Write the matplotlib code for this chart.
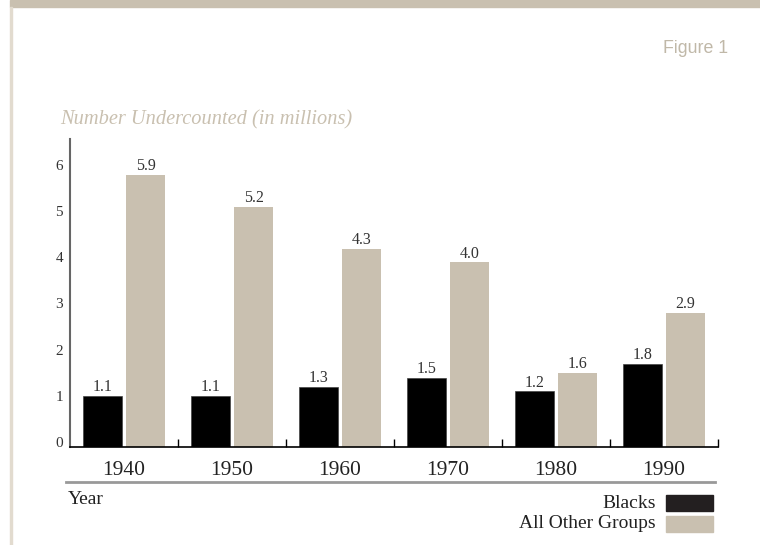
import matplotlib.pyplot as plt
import matplotlib.patches as mpatches
import numpy as np

years = ["1940", "1950", "1960", "1970", "1980", "1990"]
blacks = [1.1, 1.1, 1.3, 1.5, 1.2, 1.8]
others = [5.9, 5.2, 4.3, 4.0, 1.6, 2.9]
yticks = [0, 1, 2, 3, 4, 5, 6]

beige = "#c9c0b0"
serif = "Liberation Serif"

W, H = 760, 545
fig = plt.figure(figsize=(W / 100, H / 100), dpi=100)

def fx(px):
    return px / W

def fy(py):
    return 1 - py / H

# decorative frame: top band and thin left rule
fig.patches.append(mpatches.Rectangle((fx(10), fy(7.3)), fx(750), 7.3 / H,
                                      transform=fig.transFigure, color=beige, zorder=0))
fig.patches.append(mpatches.Rectangle((fx(10), 0), fx(2), fy(7.3),
                                      transform=fig.transFigure, color="#e2dbcf", zorder=0))

ax = fig.add_axes([fx(70), fy(446.7), fx(648), 307.4 / H])

x = np.arange(len(years))
w = 0.36
ax.bar(x - 0.2, blacks, w, color="black", edgecolor="#444444", linewidth=0.5)
ax.bar(x + 0.2, others, w, color=beige)

for xi, v in zip(x, blacks):
    ax.text(xi - 0.2, v + 0.1, f"{v:.1f}", ha="center", va="baseline",
            family=serif, fontsize=11.5, color="#333333")
for xi, v in zip(x, others):
    ax.text(xi + 0.2, v + 0.1, f"{v:.1f}", ha="center", va="baseline",
            family=serif, fontsize=11.5, color="#333333")

ax.set_xlim(-0.5, 5.5)
ax.set_ylim(0, 6.67)

for s in ["top", "right"]:
    ax.spines[s].set_visible(False)
ax.spines["left"].set_color("#666666")
ax.spines["left"].set_linewidth(1.5)
ax.spines["bottom"].set_color("black")
ax.spines["bottom"].set_linewidth(1.2)

ax.set_yticks(yticks)
ax.set_yticklabels([str(t) for t in yticks], family=serif, fontsize=11,
                   color="#333333", va="baseline")
ax.tick_params(axis="y", length=0, pad=5)

ax.set_xticks(x + 0.5)
ax.set_xticklabels([])
ax.tick_params(axis="x", direction="in", length=6, width=1, color="black")

for xi, yr in zip(x, years):
    ax.text(xi, -0.3, yr, ha="center", va="top", family=serif,
            fontsize=15.5, color="#222222")

fig.text(fx(60), fy(124), "Number Undercounted (in millions)", family=serif,
         style="italic", fontsize=14.7, color=beige, va="baseline")
fig.text(fx(728), fy(53), "Figure 1", family="Liberation Sans", fontsize=12.8,
         color="#c0b8a8", ha="right", va="baseline")

fig.add_artist(plt.Line2D([fx(66), fx(715)], [fy(481.7), fy(481.7)],
                          color="#999999", linewidth=2))
fig.text(fx(68), fy(504), "Year", family=serif, fontsize=14,
         color="#222222", va="baseline")

# legend
fig.text(fx(656), fy(507.7), "Blacks", family=serif, fontsize=14,
         color="#222222", ha="right", va="baseline")
fig.text(fx(656), fy(528), "All Other Groups", family=serif, fontsize=14,
         color="#222222", ha="right", va="baseline")
fig.patches.append(mpatches.Rectangle((fx(666), fy(511)), fx(47), 16 / H,
                                      transform=fig.transFigure, color="#231f20"))
fig.patches.append(mpatches.Rectangle((fx(666), fy(532)), fx(47), 16 / H,
                                      transform=fig.transFigure, color=beige))

fig.savefig("out.png", dpi=100)
